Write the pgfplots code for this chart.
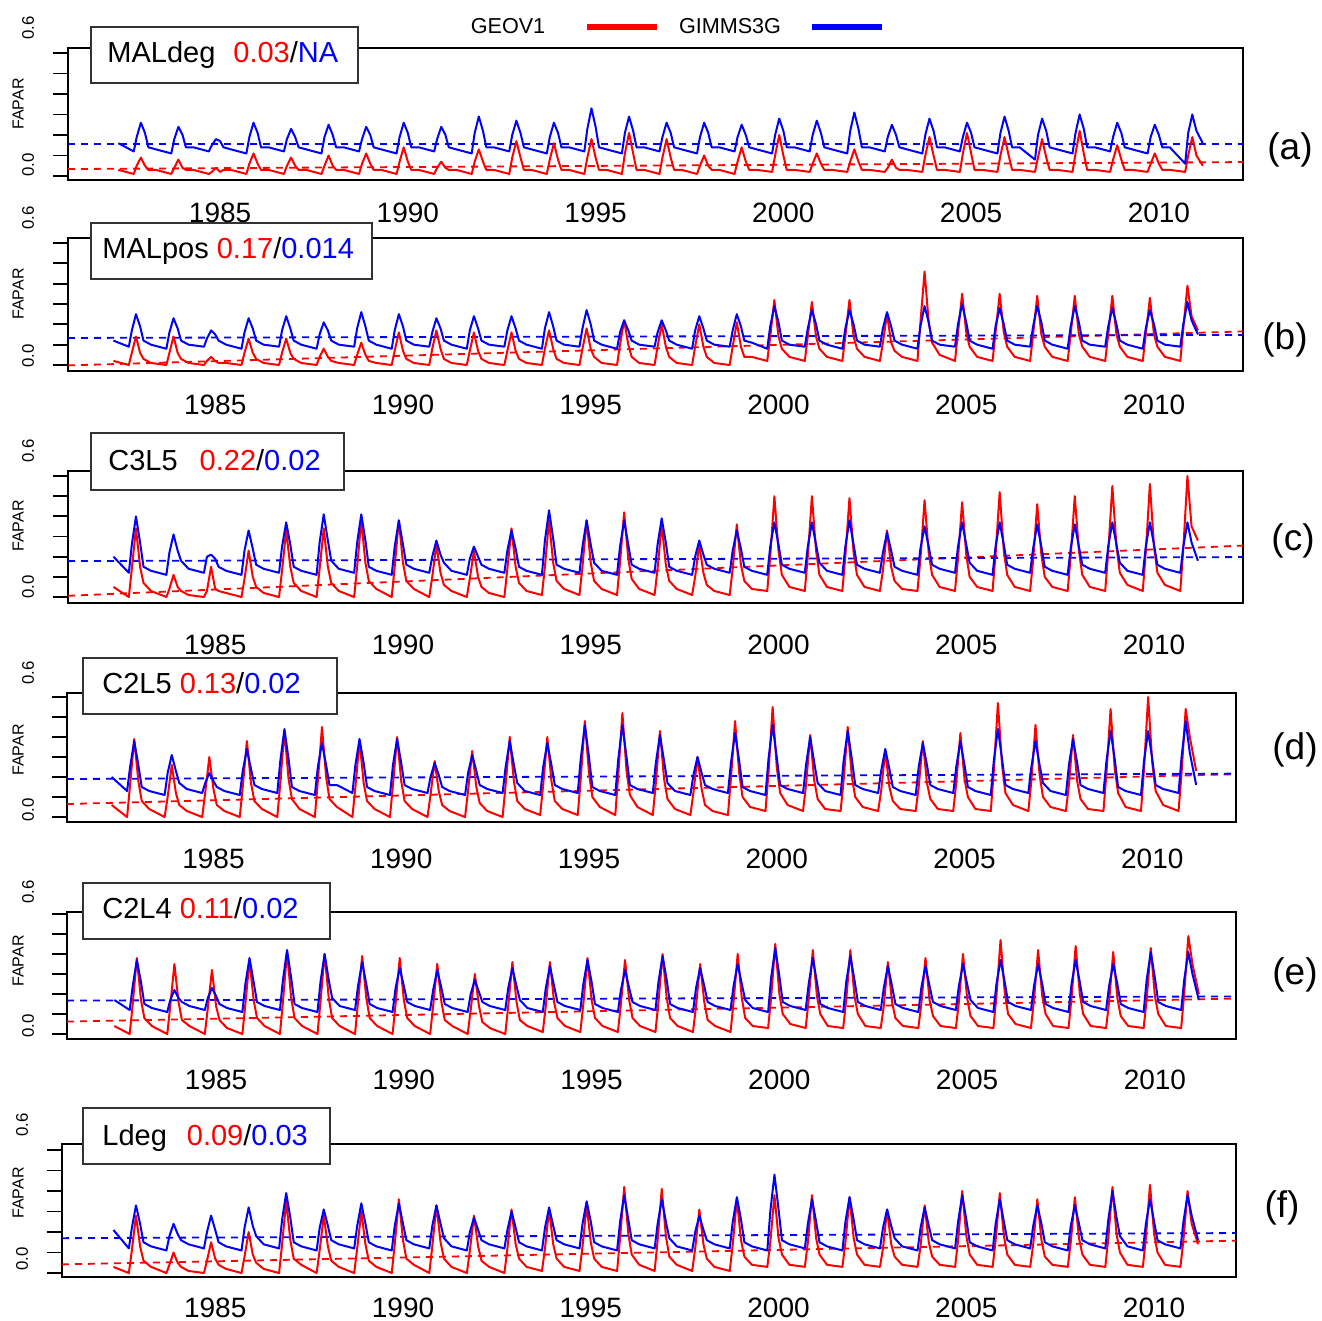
\documentclass[border=0pt]{standalone}
\usepackage{pgfplots}
\pgfplotsset{compat=1.18}
\usepackage{pgfplotstable}
\usepackage{fontspec}
\setmainfont{Liberation Sans}

\pgfplotstableread{
t ar ab br bb cr cb dr db er eb fr fb
1982.04 3 16 2 12 5 20 6 20 4 17 3 21
1982.45 1 12 0 9 0 12 0 13 0 12 0 12
1982.53 5 19 6 17 14 26 16 25 15 24 11 22
1982.64 9 26 14 25 34 40 39 38 38 37 28 33
1982.75 5 21 6 19 15 27 18 26 17 26 13 24
1982.84 3 14 3 12 7 15 8 15 8 15 6 15
1983.04 3 13 1 10 3 13 4 13 4 13 3 13
1983.45 1 11 0 8 0 11 0 11 0 11 0 11
1983.53 4 18 6 16 4 22 10 22 14 17 4 18
1983.64 8 24 14 23 11 31 26 31 35 22 10 24
1983.75 4 20 6 18 5 23 12 23 16 18 5 19
1983.84 3 14 3 12 3 18 6 17 7 16 3 16
1984.04 3 14 1 10 1 14 3 14 4 14 1 14
1984.45 1 12 0 9 0 12 0 12 0 12 0 12
1984.53 2 15 2 13 3 20 12 17 13 18 6 20
1984.64 4 18 4 17 15 21 30 22 32 23 15 28
1984.75 2 17 2 15 4 19 14 18 14 19 7 21
1984.84 3 14 1 12 3 15 6 15 7 15 4 15
1985.04 3 13 1 10 2 13 3 13 3 13 2 13
1985.45 1 11 0 8 0 11 0 11 0 11 0 11
1985.53 6 19 6 16 9 23 15 23 15 25 8 22
1985.64 11 26 13 23 23 33 38 34 37 38 20 32
1985.75 6 21 6 18 10 24 17 24 17 26 9 23
1985.84 3 14 3 12 5 16 8 16 8 16 5 18
1986.04 3 14 1 10 2 14 4 14 4 14 2 14
1986.45 1 12 0 9 0 12 0 12 0 12 0 12
1986.53 5 18 6 17 13 25 17 28 16 27 14 26
1986.64 9 23 13 24 33 37 43 44 41 42 35 39
1986.75 5 19 6 18 15 26 19 29 18 28 16 27
1986.84 3 14 3 12 7 15 9 15 8 15 7 15
1987.04 3 13 1 10 3 13 4 13 4 13 4 13
1987.45 1 11 0 8 0 11 0 11 0 11 0 11
1987.53 5 19 4 15 14 27 18 25 16 26 11 22
1987.64 10 25 8 21 34 41 45 37 40 40 28 31
1987.75 5 20 4 17 15 28 20 26 18 27 13 23
1987.84 3 14 2 12 7 18 9 16 8 18 6 16
1988.04 3 14 1 10 3 14 5 16 4 14 3 14
1988.45 1 12 0 9 0 12 0 12 0 12 0 12
1988.53 6 18 5 18 15 27 15 26 16 24 12 23
1988.64 11 24 11 26 38 41 38 39 39 36 30 34
1988.75 6 20 5 19 17 28 17 27 18 25 14 24
1988.84 3 14 2 12 8 15 8 15 8 15 6 15
1989.04 3 13 1 10 4 13 4 13 4 13 3 13
1989.45 1 11 0 8 0 11 0 11 0 11 0 11
1989.53 7 19 7 17 15 25 16 26 15 23 14 23
1989.64 14 26 16 25 38 38 40 39 38 33 36 34
1989.75 7 21 7 19 17 26 18 27 17 24 16 24
1989.84 3 14 3 12 8 16 8 16 8 16 7 16
1990.04 3 14 1 10 4 14 4 14 4 14 4 14
1990.45 1 12 0 9 0 12 0 12 0 12 0 12
1990.53 4 18 8 16 10 20 11 20 14 22 13 23
1990.64 7 24 17 23 26 28 28 27 35 32 33 33
1990.75 4 20 8 18 12 21 13 21 16 23 15 24
1990.84 3 14 3 12 6 17 6 15 7 15 7 17
1991.04 3 13 1 10 3 13 3 13 4 13 3 13
1991.45 1 11 0 8 0 11 0 11 0 11 0 11
1991.53 7 21 7 17 9 19 13 22 12 20 11 20
1991.64 13 29 16 24 23 25 33 31 30 27 28 27
1991.75 7 22 7 18 10 20 15 23 14 21 13 21
1991.84 3 14 3 12 5 16 7 16 6 16 6 16
1992.04 3 14 1 10 2 14 3 14 3 14 3 14
1992.45 1 12 0 9 0 12 0 12 0 12 0 12
1992.53 9 20 7 17 14 23 16 25 14 23 12 21
1992.64 17 27 16 24 34 33 40 38 36 33 31 30
1992.75 9 21 7 18 15 24 18 26 16 24 14 22
1992.84 3 14 3 12 7 15 8 17 7 17 7 15
1993.04 3 13 1 10 3 13 4 13 4 13 3 13
1993.45 1 11 0 8 1 11 1 11 1 11 1 11
1993.53 8 19 8 18 15 28 16 25 14 23 12 22
1993.64 16 26 17 26 38 43 40 37 36 34 31 32
1993.75 8 21 8 19 17 29 18 26 16 24 14 23
1993.84 3 14 3 12 8 16 8 16 8 16 7 16
1994.04 3 14 1 10 4 14 4 14 4 14 3 14
1994.45 1 12 0 9 1 12 1 12 1 12 1 12
1994.53 9 23 8 18 15 25 19 29 15 25 13 24
1994.64 18 33 18 27 38 38 48 46 38 37 33 35
1994.75 9 24 8 20 17 26 22 30 17 26 15 25
1994.84 3 14 4 12 8 17 10 15 8 15 7 15
1995.04 3 13 1 10 4 13 5 13 4 13 3 13
1995.45 1 11 0 8 1 11 1 11 1 11 1 11
1995.53 11 21 10 16 17 25 21 29 15 22 17 25
1995.64 21 29 22 22 42 38 52 46 37 32 42 38
1995.75 11 22 10 17 19 26 23 30 17 23 19 26
1995.84 3 14 4 12 9 16 11 16 8 16 9 16
1996.04 3 14 1 10 4 14 5 14 4 14 4 14
1996.45 1 12 0 9 1 12 1 12 1 12 1 12
1996.53 9 19 9 16 14 26 17 27 16 26 16 24
1996.64 18 26 20 22 36 39 43 41 40 39 41 36
1996.75 9 21 9 17 16 27 19 28 18 27 18 25
1996.84 3 14 4 12 8 15 9 17 8 15 8 17
1997.04 3 13 1 10 4 13 4 13 4 13 4 13
1997.45 1 11 0 8 1 11 1 11 1 11 1 11
1997.53 5 19 9 17 10 20 12 21 14 23 12 20
1997.64 10 26 20 24 26 28 30 30 35 33 31 28
1997.75 5 21 9 18 12 21 14 22 16 24 14 21
1997.84 3 14 4 12 6 16 6 16 7 16 7 16
1998.04 3 14 1 10 3 14 3 14 4 14 3 14
1998.45 1 12 0 9 1 12 1 12 1 12 1 12
1998.53 7 19 9 17 14 23 19 27 16 24 14 25
1998.64 14 25 21 25 36 33 48 42 40 35 36 37
1998.75 7 20 9 19 16 24 22 28 18 25 16 26
1998.84 3 14 4 12 8 15 10 15 8 17 8 15
1999.04 3 13 4 11 4 13 5 13 4 13 4 13
1999.45 2 11 2 8 3 11 3 11 3 11 3 11
1999.53 10 20 14 19 20 25 22 29 18 28 15 30
1999.64 20 28 32 29 50 37 55 46 45 43 38 48
1999.75 10 22 14 21 23 26 25 30 20 29 17 31
1999.84 3 14 8 12 11 16 12 16 10 16 9 16
2000.04 3 14 4 10 5 14 6 14 5 14 4 14
2000.45 2 12 2 9 3 12 3 12 3 12 3 12
2000.53 6 20 14 18 20 25 16 26 17 25 15 24
2000.64 11 27 31 27 50 37 41 40 42 38 38 36
2000.75 6 21 14 20 23 26 18 27 19 26 17 25
2000.84 3 14 8 12 11 17 9 17 10 15 9 15
2001.04 3 13 4 10 5 13 4 13 4 13 4 13
2001.45 2 11 2 8 3 11 3 11 3 11 3 11
2001.53 7 22 14 18 20 25 18 28 17 26 15 25
2001.64 13 31 32 27 49 38 45 43 42 39 37 37
2001.75 7 23 14 20 22 26 20 29 19 27 17 26
2001.84 3 14 8 12 11 16 10 16 10 16 9 16
2002.04 3 14 4 10 5 14 5 14 4 14 4 14
2002.45 2 12 2 9 3 12 3 12 3 12 3 12
2002.53 4 19 11 18 13 22 13 23 14 23 12 22
2002.64 8 25 25 26 33 32 33 34 36 34 31 31
2002.75 4 20 11 19 15 23 15 24 16 24 14 23
2002.84 3 14 7 12 8 15 8 15 8 15 8 17
2003.04 3 13 4 10 4 13 4 13 4 13 4 13
2003.45 2 11 2 8 3 11 3 11 3 11 3 11
2003.53 10 20 21 19 19 24 15 25 15 23 13 22
2003.64 19 28 46 29 48 35 38 37 38 34 33 32
2003.75 10 22 21 21 22 25 17 26 17 24 15 23
2003.84 3 14 11 12 11 16 9 16 9 16 8 16
2004.04 3 14 5 10 5 14 4 14 4 14 4 14
2004.45 2 12 2 9 3 12 3 12 3 12 3 12
2004.53 11 19 16 20 19 25 17 25 16 24 16 25
2004.64 21 26 35 30 47 37 42 38 40 35 40 38
2004.75 11 21 16 21 21 26 19 26 18 25 18 26
2004.84 3 14 9 12 10 17 10 15 9 17 9 15
2005.04 3 13 4 10 5 13 4 13 4 13 4 13
2005.45 2 11 2 8 3 11 3 11 3 11 3 11
2005.53 10 21 16 19 21 25 23 28 19 25 16 24
2005.64 19 29 35 28 52 37 57 44 47 37 39 36
2005.75 10 22 16 20 23 26 26 29 21 26 18 25
2005.84 3 14 9 12 11 16 12 16 10 16 9 16
2006.04 3 14 4 10 5 14 6 14 5 14 4 14
2006.45 2 8 2 9 3 12 3 12 3 12 3 12
2006.53 9 20 15 19 18 24 18 25 17 24 14 23
2006.64 18 28 34 29 46 36 46 38 42 35 36 33
2006.75 9 22 15 21 21 25 21 26 19 25 16 24
2006.84 3 14 9 12 10 15 10 17 10 15 8 15
2007.04 3 13 4 10 5 13 5 13 4 13 4 13
2007.45 2 11 2 8 3 11 3 11 3 11 3 11
2007.53 11 21 15 19 20 24 16 26 18 25 15 23
2007.64 22 30 34 29 50 36 41 39 44 37 37 33
2007.75 11 23 15 21 23 25 18 27 20 26 17 24
2007.84 3 14 9 12 11 16 9 16 10 16 9 16
2008.04 3 14 4 10 5 14 4 14 4 14 4 14
2008.45 2 12 2 9 3 12 3 12 3 12 3 12
2008.53 8 19 15 19 22 25 22 28 16 24 17 26
2008.64 15 26 34 28 55 37 54 43 41 35 42 40
2008.75 8 21 15 20 25 26 24 29 18 25 19 27
2008.84 3 14 9 12 12 17 12 15 9 15 10 18
2009.04 3 13 4 10 6 13 5 13 4 13 4 13
2009.45 2 11 2 8 3 11 3 11 3 11 3 11
2009.53 6 19 15 18 22 25 24 28 17 27 17 24
2009.64 11 25 33 27 56 37 60 43 43 41 43 36
2009.75 6 20 15 20 25 26 27 29 19 28 19 25
2009.84 3 14 9 12 12 16 13 16 10 16 10 16
2010.04 3 14 4 10 6 14 6 14 4 14 4 14
2010.45 2 6 2 9 3 12 3 12 3 12 3 12
2010.53 10 21 18 20 24 25 22 30 20 27 16 25
2010.64 19 30 39 31 60 37 54 48 49 41 40 38
2010.75 10 22 24 22 35 27 40 32 35 30 24 28
2010.92 5 16 17 15 28 18 23 16 20 17 14 16
}\fapar

\newcommand{\boxfont}{\fontsize{14.5}{16}\selectfont}
\newcommand{\smallfont}{\fontsize{8.4}{9}\selectfont}

\pgfplotsset{
  panel/.style={
    scale only axis, anchor=south west,
    axis line style={line width=0.9pt},
    ytick={0,10,20,30,40,50,60}, yticklabels={},
    ytick pos=left, xtick pos=bottom,
    tick align=outside, major tick length=7.5pt,
    ytick style={line width=0.9pt, black},
    xtick={1984.75,1989.75,1994.75,1999.75,2004.75,2009.75},
    xticklabels={1985,1990,1995,2000,2005,2010},
    xtick style={draw=none},
    xticklabel style={font=\fontsize{14}{16}\selectfont, anchor=center},
  },
  gr/.style={red, line width=1pt, line join=round},
  gb/.style={blue, line width=1pt, line join=round},
  trend/.style={line width=0.9pt, dash pattern=on 3.5pt off 3pt},
}

\begin{document}
\begin{tikzpicture}
% (a)
\begin{axis}[panel, at={(34pt,-90pt)}, width=587.5pt, height=66pt,
  xmin=1980.70, xmax=2011.99, ymin=-1.95, ymax=62.44,
  xticklabel style={yshift=-9pt}]
\addplot[red, trend] coordinates {(1980.70,3.4) (2011.99,6.8)};
\addplot[blue, trend] coordinates {(1980.70,15.6) (2011.99,15.6)};
\addplot[gr] table[x=t,y=ar]{\fapar};
\addplot[gb] table[x=t,y=ab]{\fapar};
\end{axis}
% (b)
\begin{axis}[panel, at={(34pt,-185.5pt)}, width=587.5pt, height=66.5pt,
  xmin=1980.83, xmax=2012.12, ymin=-2.95, ymax=62.46,
  xticklabel style={yshift=-9.5pt}]
\addplot[red, trend] coordinates {(1980.83,-0.2) (2012.12,16.5)};
\addplot[blue, trend] coordinates {(1980.83,13.3) (2012.12,14.8)};
\addplot[gr] table[x=t,y=br]{\fapar};
\addplot[gb] table[x=t,y=bb]{\fapar};
\end{axis}
% (c)
\begin{axis}[panel, at={(34pt,-301.5pt)}, width=587.5pt, height=66pt,
  xmin=1980.83, xmax=2012.12, ymin=-2.97, ymax=62.48,
  xticklabel style={yshift=-13.5pt}]
\addplot[red, trend] coordinates {(1980.83,0.6) (2012.12,25.5)};
\addplot[blue, trend] coordinates {(1980.83,17.8) (2012.12,19.8)};
\addplot[gr] table[x=t,y=cr]{\fapar};
\addplot[gb] table[x=t,y=cb]{\fapar};
\end{axis}
% (d)
\begin{axis}[panel, at={(33.5pt,-411pt)}, width=584.5pt, height=64.5pt,
  xmin=1980.85, xmax=2011.98, ymin=-2.5, ymax=62,
  xticklabel style={yshift=-11pt}]
\addplot[red, trend] coordinates {(1980.85,6.5) (2011.98,21.4)};
\addplot[blue, trend] coordinates {(1980.85,19) (2011.98,21.7)};
\addplot[gr] table[x=t,y=dr]{\fapar};
\addplot[gb] table[x=t,y=db]{\fapar};
\end{axis}
% (e)
\begin{axis}[panel, at={(33.5pt,-519.5pt)}, width=584.5pt, height=63.5pt,
  xmin=1980.78, xmax=2011.91, ymin=-2.5, ymax=61,
  xticklabel style={yshift=-13pt}]
\addplot[red, trend] coordinates {(1980.78,6.2) (2011.91,17.7)};
\addplot[blue, trend] coordinates {(1980.78,16.7) (2011.91,18.8)};
\addplot[gr] table[x=t,y=er]{\fapar};
\addplot[gb] table[x=t,y=eb]{\fapar};
\end{axis}
% (f)
\begin{axis}[panel, at={(31pt,-638.5pt)}, width=587pt, height=66.5pt,
  xmin=1980.67, xmax=2011.93, ymin=-1.95, ymax=62.93,
  xticklabel style={yshift=-8pt}]
\addplot[red, trend] coordinates {(1980.67,4.2) (2011.93,15.8)};
\addplot[blue, trend] coordinates {(1980.67,17) (2011.93,19.5)};
\addplot[gr] table[x=t,y=fr]{\fapar};
\addplot[gb] table[x=t,y=fb]{\fapar};
\end{axis}

\begin{scope}[x=0.5pt,y=-0.5pt]
% legend
\node[font=\fontsize{10.8}{12}\selectfont] at (508,26) {GEOV1};
\draw[red, line width=3.3pt] (587,27) -- (657,27);
\node[font=\fontsize{10.8}{12}\selectfont] at (730,26) {GIMMS3G};
\draw[blue, line width=3.3pt] (812,27) -- (882,27);
% boxes
\tikzset{lbox/.style={fill=white, draw=black!80, line width=0.6pt}}
\draw[lbox] (91,27) rectangle (358,83);
\node[anchor=base west, inner sep=0, font=\boxfont] at (107,63) {MALdeg\hspace{9pt}\textcolor{red}{0.03}/\textcolor{blue}{NA}};
\draw[lbox] (91,223) rectangle (372,279);
\node[anchor=base west, inner sep=0, font=\boxfont] at (102,258) {MALpos \textcolor{red}{0.17}/\textcolor{blue}{0.014}};
\draw[lbox] (91,433) rectangle (344,490);
\node[anchor=base west, inner sep=0, font=\boxfont] at (108,470) {C3L5\hspace{11pt}\textcolor{red}{0.22}/\textcolor{blue}{0.02}};
\draw[lbox] (83,658) rectangle (337,714);
\node[anchor=base west, inner sep=0, font=\boxfont] at (102,693) {C2L5 \textcolor{red}{0.13}/\textcolor{blue}{0.02}};
\draw[lbox] (83,883) rectangle (330,939);
\node[anchor=base west, inner sep=0, font=\boxfont] at (102,918) {C2L4 \textcolor{red}{0.11}/\textcolor{blue}{0.02}};
\draw[lbox] (83,1108) rectangle (330,1164);
\node[anchor=base west, inner sep=0, font=\boxfont] at (102,1145) {Ldeg\hspace{10pt}\textcolor{red}{0.09}/\textcolor{blue}{0.03}};
% y labels
\foreach \xx/\ya/\yb/\yf in {28/28/165/104, 28/218/356/294, 28/451/587/526, 28/673/810/750, 28/892/1026/961, 22/1125/1259/1193}{
  \node[rotate=90, font=\smallfont] at (\xx,\ya) {0.6};
  \node[rotate=90, font=\smallfont] at (\xx,\yb) {0.0};
  \node[rotate=90, font=\fontsize{8}{9}\selectfont] at (18,\yf) {FAPAR};
}
% panel letters
\foreach \px/\py/\lab in {1290/150/a, 1285/340/b, 1293/541/c, 1295/750/d, 1295/975/e, 1282/1208/f}{
  \node[font=\fontsize{18.5}{20}\selectfont] at (\px,\py) {(\lab)};
}
\end{scope}
\pgfresetboundingbox
\useasboundingbox (0,0) rectangle (661pt,-660.5pt);
\end{tikzpicture}
\end{document}
